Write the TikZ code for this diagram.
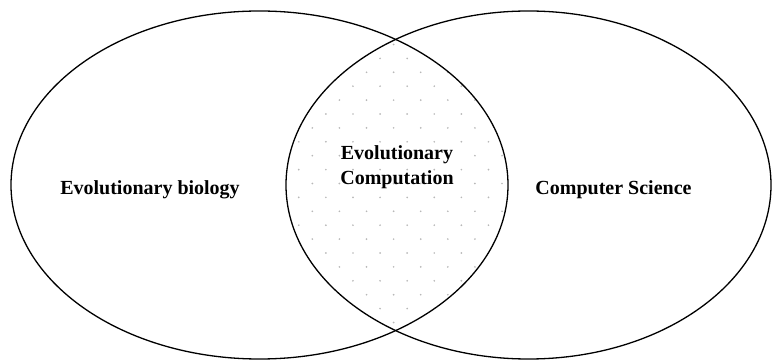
\documentclass[tikz,border=0pt]{standalone}
\usepackage{fontspec}
\setmainfont{Liberation Serif}
\begin{document}
\begin{tikzpicture}[x=1pt,y=-1pt,
  setring/.style={draw=black, line width=1.3pt},
  dot/.style={fill=black!28},
  setlabel/.style={font=\bfseries\fontsize{20}{25}\selectfont, align=center, inner sep=0pt, anchor=base}]
\useasboundingbox (0,0) rectangle (773,363);
\coordinate (L) at (259.5,185);
\coordinate (R) at (528.5,185);
% dotted fill of the overlap
\begin{scope}
  \clip (L) ellipse [x radius=248.5, y radius=174];
  \clip (R) ellipse [x radius=242.5, y radius=174];
  \foreach \k in {-8,-6,...,12}
    \foreach \j in {-2,...,9}
      \fill[dot] (285.2+27.1*\j,155.7+13.9*\k) circle (0.95);
  \foreach \k in {-7,-5,...,11}
    \foreach \j in {-2,...,9}
      \fill[dot] (271.65+27.1*\j,155.7+13.9*\k) circle (0.95);
\end{scope}
% the two sets
\draw[setring] (L) ellipse [x radius=248.5, y radius=174];
\draw[setring] (R) ellipse [x radius=242.5, y radius=174];
% labels
\node[setlabel] (bio) at (150,195) {Evolutionary biology};
\node[setlabel] (cs) at (613.5,195) {Computer Science};
\node[setlabel] (ec) at (397,185) {Evolutionary\\Computation};
\end{tikzpicture}
\end{document}
